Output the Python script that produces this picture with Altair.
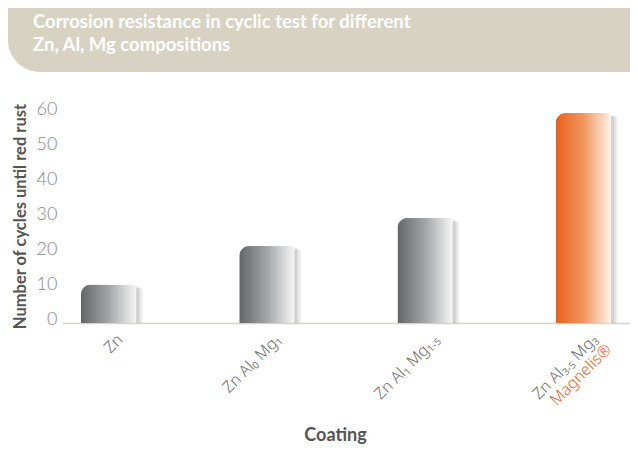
import altair as alt
import pandas as pd

coatings = ["Zn", "Zn Al₀ Mg₁", "Zn Al₁ Mg₁.₅", "Zn Al₃.₅ Mg₃"]
cycles = [11, 22, 30, 60]
highlight = [False, False, False, True]
brand = ["", "", "", "Magnelis®"]
y_ticks = [0, 10, 20, 30, 40, 50, 60]
title_lines = ["Corrosion resistance in cyclic test for different", "Zn, Al, Mg compositions"]

df = pd.DataFrame({"Coating": coatings, "Cycles": cycles, "Highlight": highlight, "Brand": brand})

ORANGE = "#e8601c"
BEIGE = "#d8d2c3"

x_axis = alt.Axis(
    title="Coating", labelAngle=-45, labelFont="Noto Sans", labelFontSize=16,
    labelFontWeight=300, labelColor="#6a6a6a", labelPadding=8, labelOffset=6,
    domain=True, domainColor=BEIGE, domainWidth=1.5, ticks=False,
    titleFont="Lato", titleFontSize=18, titleFontWeight="bold", titleColor="#555555",
    titleX=273, titleY=103, titleAlign="center", titleBaseline="top",
)
y_axis = alt.Axis(
    title="Number of cycles until red rust", values=y_ticks, domain=False, ticks=False,
    tickSize=0, grid=False, labelOverlap=False, labelFont="Lato", labelFontSize=18,
    labelFontWeight=300, labelColor="#888888", labelPadding=5, labelOffset=-4,
    titleFont="Lato", titleFontSize=16.5, titleFontWeight="bold", titleColor="#555555",
    titleX=-34, titleY=103,
)
x_scale = alt.Scale(paddingInner=0.65, paddingOuter=0.12)
y_scale = alt.Scale(domain=[0, 60], nice=False)

x_enc = alt.X("Coating:N", sort=coatings, scale=x_scale, axis=x_axis)
y_enc = alt.Y("Cycles:Q", scale=y_scale, axis=y_axis)

base = alt.Chart(df).encode(x=x_enc, y=y_enc)

one = pd.DataFrame({"k": [0]})
banner = alt.Chart(one).mark_rect(
    color=BEIGE, cornerRadiusBottomLeft=40
).encode(x=alt.value(-54), x2=alt.value(568), y=alt.value(-105), y2=alt.value(-41))

title_marks = [
    alt.Chart(one).mark_text(
        align="left", baseline="middle", font="Lato", fontSize=18.5, fontWeight="bold",
        color="white",
    ).encode(x=alt.value(-29), y=alt.value(yy), text=alt.value(line))
    for line, yy in zip(title_lines, [-91, -68])
]

shadows = [
    base.mark_bar(color="#000000", opacity=op, xOffset=dx, yOffset=dy,
                  cornerRadiusTopLeft=10, cornerRadiusTopRight=3)
    for op, dx, dy in [(0.05, 7, 4), (0.06, 5, 3), (0.08, 3, 2)]
]

gray_grad = alt.Gradient(
    gradient="linear",
    stops=[alt.GradientStop(color="#646567", offset=0),
           alt.GradientStop(color="#a4a5a7", offset=0.5),
           alt.GradientStop(color="#f6f6f6", offset=1)],
    x1=0, x2=1, y1=0, y2=0,
)
orange_grad = alt.Gradient(
    gradient="linear",
    stops=[alt.GradientStop(color=ORANGE, offset=0),
           alt.GradientStop(color="#f09660", offset=0.5),
           alt.GradientStop(color="#fef2ea", offset=1)],
    x1=0, x2=1, y1=0, y2=0,
)

gray_bars = base.transform_filter("!datum.Highlight").mark_bar(
    color=gray_grad, cornerRadiusTopLeft=10, cornerRadiusTopRight=2
)
orange_bar = base.transform_filter("datum.Highlight").mark_bar(
    color=orange_grad, cornerRadiusTopLeft=10, cornerRadiusTopRight=2
)

brand_text = base.transform_filter("datum.Highlight").mark_text(
    align="right", baseline="top", angle=315, dx=1, dy=27,
    font="Noto Sans", fontSize=16, fontWeight=300, color=ORANGE,
).encode(text="Brand:N", y=alt.Y(datum=0, scale=y_scale, axis=y_axis))

chart = alt.layer(banner, *title_marks, *shadows, gray_bars, orange_bar, brand_text).properties(
    width=568, height=210,
    autosize=alt.AutoSizeParams(type="none"),
    padding={"left": 54, "top": 105, "right": 0, "bottom": 123},
).configure_view(stroke=None)

chart.save("out.html", embed_options={"renderer": "svg", "actions": False})
